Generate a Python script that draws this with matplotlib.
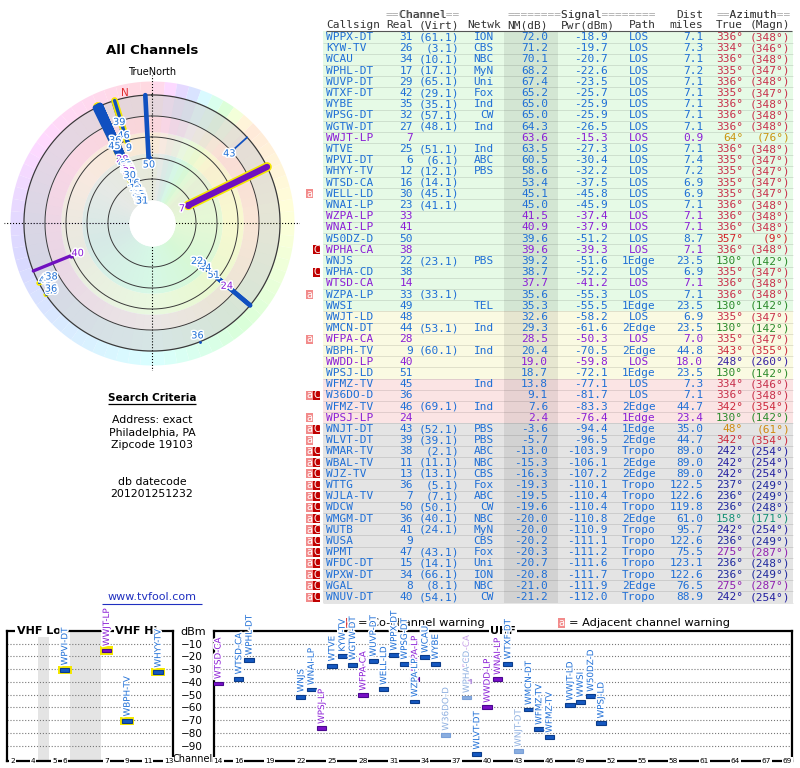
import colorsys
import numpy as np
import matplotlib
matplotlib.use('Agg')
import matplotlib.pyplot as plt
import matplotlib.patheffects as pe
from matplotlib.colors import LinearSegmentedColormap

# ---- station table ----
callsigns = ['WPPX-DT', 'KYW-TV', 'WCAU', 'WPHL-DT', 'WUVP-DT', 'WTXF-DT', 'WYBE', 'WPSG-DT',
             'WGTW-DT', 'WWJT-LP', 'WTVE', 'WPVI-DT', 'WHYY-TV', 'WTSD-CA', 'WELL-LD', 'WNAI-LP',
             'WZPA-LP', 'WNAI-LP', 'W50DZ-D', 'WPHA-CA', 'WNJS', 'WPHA-CD', 'WTSD-CA', 'WZPA-LP',
             'WWSI', 'WWJT-LD', 'WMCN-DT', 'WFPA-CA', 'WBPH-TV', 'WWDD-LP', 'WPSJ-LD', 'WFMZ-TV',
             'W36DO-D', 'WFMZ-TV', 'WPSJ-LP', 'WNJT-DT', 'WLVT-DT', 'WMAR-TV', 'WBAL-TV', 'WJZ-TV',
             'WTTG', 'WJLA-TV', 'WDCW', 'WMGM-DT', 'WUTB', 'WUSA', 'WPMT', 'WFDC-DT', 'WPXW-DT',
             'WGAL', 'WNUV-DT']
real_ch = [31, 26, 34, 17, 29, 42, 35, 32, 27, 7, 25, 6, 12, 16, 30, 23, 33, 41, 50, 38, 22, 38,
           14, 33, 49, 48, 44, 28, 9, 40, 51, 45, 36, 46, 24, 43, 39, 38, 11, 13, 36, 7, 50, 36,
           41, 9, 47, 15, 34, 8, 40]
virt_ch = ['61.1', '3.1', '10.1', '17.1', '65.1', '29.1', '35.1', '57.1', '48.1', '', '51.1',
           '6.1', '12.1', '14.1', '45.1', '41.1', '', '', '', '', '23.1', '', '', '33.1', '', '',
           '53.1', '', '60.1', '', '', '', '', '69.1', '', '52.1', '39.1', '2.1', '11.1', '13.1',
           '5.1', '7.1', '50.1', '40.1', '24.1', '', '43.1', '14.1', '66.1', '8.1', '54.1']
networks = ['ION', 'CBS', 'NBC', 'MyN', 'Uni', 'Fox', 'Ind', 'CW', 'Ind', '', 'Ind', 'ABC', 'PBS',
            '', '', '', '', '', '', '', 'PBS', '', '', '', 'TEL', '', 'Ind', '', 'Ind', '', '',
            'Ind', '', 'Ind', '', 'PBS', 'PBS', 'ABC', 'NBC', 'CBS', 'Fox', 'ABC', 'CW', 'NBC',
            'MyN', 'CBS', 'Fox', 'Uni', 'ION', 'NBC', 'CW']
nm_db = [72.0, 71.2, 70.1, 68.2, 67.4, 65.2, 65.0, 65.0, 64.3, 63.6, 63.5, 60.5, 58.6, 53.4,
         45.1, 45.0, 41.5, 40.9, 39.6, 39.6, 39.2, 38.7, 37.7, 35.6, 35.3, 32.6, 29.3, 28.5,
         20.4, 19.0, 18.7, 13.8, 9.1, 7.6, 2.4, -3.6, -5.7, -13.0, -15.3, -16.3, -19.3, -19.5,
         -19.6, -20.0, -20.0, -20.2, -20.3, -20.7, -20.8, -21.0, -21.2]
pwr_dbm = [-18.9, -19.7, -20.7, -22.6, -23.5, -25.7, -25.9, -25.9, -26.5, -15.3, -27.3, -30.4,
           -32.2, -37.5, -45.8, -45.9, -37.4, -37.9, -51.2, -39.3, -51.6, -52.2, -41.2, -55.3,
           -55.5, -58.2, -61.6, -50.3, -70.5, -59.8, -72.1, -77.1, -81.7, -83.3, -76.4, -94.4,
           -96.5, -103.9, -106.1, -107.2, -110.1, -110.4, -110.4, -110.8, -110.9, -111.1,
           -111.2, -111.6, -111.7, -111.9, -112.0]
paths = ['LOS'] * 20 + ['1Edge', 'LOS', 'LOS', 'LOS', '1Edge', 'LOS', '2Edge', 'LOS', '2Edge',
         'LOS', '1Edge', 'LOS', 'LOS', '2Edge', '1Edge', '1Edge', '2Edge', 'Tropo', '2Edge',
         '2Edge', 'Tropo', 'Tropo', 'Tropo', '2Edge', 'Tropo', 'Tropo', 'Tropo', 'Tropo',
         'Tropo', '2Edge', 'Tropo']
dist_mi = [7.1, 7.3, 7.1, 7.2, 7.1, 7.1, 7.1, 7.1, 7.1, 0.9, 7.1, 7.4, 7.2, 6.9, 6.9, 7.1, 7.1,
           7.1, 8.7, 7.1, 23.5, 6.9, 7.1, 7.1, 23.5, 6.9, 23.5, 7.0, 44.8, 18.0, 23.5, 7.3, 7.1,
           44.7, 23.4, 35.0, 44.7, 89.0, 89.0, 89.0, 122.5, 122.6, 119.8, 61.0, 95.7, 122.6,
           75.5, 123.1, 122.6, 76.5, 88.9]
az_true = [336, 334, 336, 335, 336, 335, 336, 336, 336, 64, 336, 335, 335, 335, 335, 336, 336,
           336, 357, 336, 130, 335, 336, 336, 130, 335, 130, 335, 343, 248, 130, 334, 336, 342,
           130, 48, 342, 242, 242, 242, 237, 236, 236, 158, 242, 236, 275, 236, 236, 275, 242]
az_magn = [348, 346, 348, 347, 348, 347, 348, 348, 348, 76, 348, 347, 347, 347, 347, 348, 348,
           348, 9, 348, 142, 347, 348, 348, 142, 347, 142, 347, 355, 260, 142, 346, 348, 354,
           142, 61, 354, 254, 254, 254, 249, 249, 248, 171, 254, 249, 287, 248, 249, 287, 254]
analog = ['WWJT-LP', 'WZPA-LP#17', 'WNAI-LP#18', 'WPHA-CA', 'WTSD-CA#23', 'WFPA-CA',
          'WWDD-LP', 'WPSJ-LP']
warnings = ['', '', '', '', '', '', '', '', '', '', '', '', '', '', 'a', '', '', '', '', 'C',
            '', 'C', '', 'a', '', '', '', 'a', '', '', '', '', 'aC', '', 'a', 'aC', 'a'] + ['aC'] * 14

vhf_ticks = [2, 4, 5, 6, 7, 9, 11, 13]
uhf_ticks = [14, 16, 19, 22, 25, 28, 31, 34, 37, 40, 43, 46, 49, 52, 55, 58, 61, 64, 67, 69]
dbm_ticks = [-10, -20, -30, -40, -50, -60, -70, -80, -90]
ring_levels = [60, 40, 20, 0, -20]

BLUE = '#1f6fd6'
PURPLE = '#8b1fd6'
YELLOW = '#f5e800'
n = len(callsigns)
is_analog = [(c in analog) or (f'{c}#{i + 1}' in analog) for i, c in enumerate(callsigns)]

az_cmap = LinearSegmentedColormap.from_list('az', [
    (0, '#d42020'), (48 / 360, '#d08a10'), (70 / 360, '#c89a10'), (130 / 360, '#2a8a2a'),
    (160 / 360, '#10907a'), (242 / 360, '#2020a0'), (275 / 360, '#9020b0'),
    (336 / 360, '#c8304a'), (1, '#d42020')])


def ring_color(az, sat=0.15):
    h = np.interp(az, [0, 45, 90, 135, 180, 225, 270, 315, 360],
                  [350, 25, 65, 115, 180, 215, 255, 310, 350]) % 360
    return colorsys.hsv_to_rgb(h / 360, sat, 1.0)


def row_bg(v):
    if v >= 35:
        return '#e6fae6'
    if v >= 15:
        return '#fafae2'
    if v >= 0:
        return '#fbe4e4'
    return '#e4e4e4'


halo = [pe.withStroke(linewidth=2.2, foreground='white')]

fig = plt.figure(figsize=(8, 7.68), dpi=100)
ax = fig.add_axes([0, 0, 1, 1])
ax.set_xlim(0, 800)
ax.set_ylim(768, 0)
ax.axis('off')

# ---- table ----
mono = 'DejaVu Sans Mono'
fs = 8
ROW0, ROWH = 37, 11.2
row_y = ROW0 + ROWH * np.arange(n)
ax.barh(row_y, 470, left=323, height=ROWH, color=[row_bg(v) for v in nm_db], zorder=1)
ax.hlines(row_y + ROWH / 2, 323, 793, color='black', alpha=0.12, lw=0.6, zorder=2)
ax.barh(row_y.mean(), 54, left=504, height=ROWH * n, color='black', alpha=0.08, zorder=2)

hdr = dict(family=mono, fontsize=fs, va='center', zorder=3)
for txt, x in [('==Channel==', 423), ('========Signal========', 581.5), ('==Azimuth==', 753.5)]:
    ax.text(x, 15, txt, ha='center', color='#aaaaaa', **hdr)
    ax.text(x, 15, txt.replace('=', ' '), ha='center', color='#333333', **hdr)
ax.text(703, 15, 'Dist', ha='right', color='#333333', **hdr)
for txt, x, ha in [('Callsign', 326, 'left'), ('Real', 413, 'right'), ('(Virt)', 459, 'right'),
                   ('Netwk', 501, 'right'), ('NM(dB)', 548, 'right'), ('Pwr(dBm)', 615, 'right'),
                   ('Path', 642, 'center'), ('miles', 703, 'right'), ('True', 743, 'right'),
                   ('(Magn)', 790, 'right')]:
    ax.text(x, 25, txt, ha=ha, color='#333333', **hdr)
ax.hlines(30.5, 326, 792, color='#555555', lw=0.8)

cell = dict(family=mono, fontsize=fs, va='center', zorder=3)
for i in range(n):
    y = row_y[i]
    col = PURPLE if is_analog[i] else BLUE
    azc = az_cmap(az_true[i] / 360)
    ax.text(326, y, callsigns[i], ha='left', color=col, **cell)
    ax.text(413, y, str(real_ch[i]), ha='right', color=col, **cell)
    if virt_ch[i]:
        ax.text(459, y, f'({virt_ch[i]})', ha='right', color=col, **cell)
    ax.text(494, y, networks[i], ha='right', color=col, **cell)
    ax.text(548, y, f'{nm_db[i]:.1f}', ha='right', color=col, **cell)
    ax.text(608, y, f'{pwr_dbm[i]:.1f}', ha='right', color=col, **cell)
    ax.text(639, y, paths[i], ha='center', color=col, **cell)
    ax.text(703, y, f'{dist_mi[i]:.1f}', ha='right', color=col, **cell)
    ax.text(743, y, f'{az_true[i]}°', ha='right', color=azc, **cell)
    ax.text(790, y, f'({az_magn[i]}°)', ha='right', color=azc, **cell)

adj_y = [row_y[i] for i, w in enumerate(warnings) if 'a' in w]
co_y = [row_y[i] for i, w in enumerate(warnings) if 'C' in w]
ax.barh(adj_y, 6.8, left=305.8, height=9, color='#f28b8b', zorder=3)
ax.barh(co_y, 7.2, left=312.8, height=9, color='#c00000', zorder=3)
for y in adj_y:
    ax.text(309.2, y, 'a', ha='center', va='center', color='white', fontsize=7, zorder=4)
for y in co_y:
    ax.text(316.4, y, 'C', ha='center', va='center', color='white', fontsize=7, zorder=4)

# ---- left column text ----
ax.text(152, 50, 'All Channels', ha='center', va='center', fontsize=9.5, fontweight='bold')
ax.text(152, 72, 'TrueNorth', ha='center', va='center', fontsize=7)
ax.text(152, 398, 'Search Criteria', ha='center', va='center', fontsize=7.5, fontweight='bold')
ax.hlines(404, 108, 196, color='black', lw=0.9)
for txt, y in [('Address: exact', 420), ('Philadelphia, PA', 433), ('Zipcode 19103', 445),
               ('db datecode', 482), ('201201251232', 494)]:
    ax.text(152, y, txt, ha='center', va='center', fontsize=7.8)
ax.text(152, 597, 'www.tvfool.com', ha='center', va='center', fontsize=8, color='#2030c0')
ax.hlines(603.5, 102, 202, color='#2030c0', lw=0.8)

# ---- polar signal map ----
NM_CENTER, NM_EDGE = 101.9, -39.0
pax = fig.add_axes([4 / 800, (768 - 223 - 148) / 768, 296 / 800, 296 / 768], projection='polar')
pax.set_theta_zero_location('N')
pax.set_theta_direction(-1)
pax.set_ylim(NM_CENTER, NM_EDGE)
pax.axis('off')

full = np.linspace(0, 2 * np.pi, 361)
for top, bot, c in [(80, 35, '#e3f8e3'), (35, 15, '#f8f8dc'), (15, 0, '#f9e2e2'),
                    (0, -20, '#e2e2e2')]:
    pax.fill_between(full, top, bot, color=c, lw=0, zorder=1)
for k in range(72):
    seg = np.radians(np.linspace(k * 5, k * 5 + 5, 6))
    pax.fill_between(seg, -20, -33.3, color=ring_color(k * 5 + 2.5), lw=0, zorder=1)
    pax.fill_between(seg, 80, -20, color=ring_color(k * 5 + 2.5, 0.5), alpha=0.12, lw=0, zorder=1)
for th in np.radians([0, 90, 180, 270]):
    pax.plot([th, th], [NM_CENTER, NM_EDGE], ls=':', color='black', lw=0.8, zorder=2)
pax.fill_between(full, NM_CENTER, 80, color='white', lw=0, zorder=3)
for lv in ring_levels:
    pax.plot(full, [lv] * len(full), color='#3a3a3a', lw=0.7 if lv > -20 else 0.9, zorder=3)
pax.text(np.radians(348), -24.5, 'N', color='#e03030', fontsize=7.5, ha='center', va='center',
         zorder=6)

order = np.argsort(nm_db)
for i in order:
    v = nm_db[i]
    if v < -20.05:
        continue
    th = np.radians(az_true[i])
    col = '#7010c0' if is_analog[i] else '#1050c0'
    lw = float(np.clip(2 + v / 15, 1.6, 6.5)) * 0.72
    if real_ch[i] < 14:
        pax.plot([th, th], [v, -20], color=YELLOW, lw=lw + 2.4, solid_capstyle='round', zorder=4)
    pax.plot([th, th], [v, -20], color=col, lw=lw, solid_capstyle='round', zorder=4)
    pax.plot([th], [v], 'o', color=col, ms=lw * 0.9, zorder=4)
for i in order:
    v = nm_db[i]
    if v < -20.05:
        continue
    pax.text(np.radians(az_true[i]), max(v, -20) + 6.5, str(real_ch[i]), ha='center',
             va='center', fontsize=7, color=PURPLE if is_analog[i] else BLUE,
             path_effects=halo, zorder=5)

# ---- received power spectrum ----
YMIN = -102


def vhf_pos(ch):
    if ch <= 4:
        return ch - 1.45
    if ch <= 6:
        return ch - 0.4
    return ch + 2.65


vax = fig.add_axes([7 / 800, 7 / 768, 166 / 800, 130 / 768])
uax = fig.add_axes([214 / 800, 7 / 768, 578 / 800, 130 / 768])
vax.set_xlim(0, 16.1)
uax.set_xlim(13.61, 69.46)
vax.axvspan(3.05, 4.1, color='#e4e4e4', lw=0, zorder=0)
vax.axvspan(6.1, 9.15, color='#e4e4e4', lw=0, zorder=0)
for a in (vax, uax):
    a.set_ylim(YMIN, 0)
    a.set_yticks(dbm_ticks)
    a.set_xticks([])
    a.yaxis.grid(True, ls=':', color='#777777', lw=0.8)
    a.set_axisbelow(True)
    a.tick_params(axis='y', length=0)
    for s in a.spines.values():
        s.set_linewidth(1.6)
vax.set_yticklabels([])
uax.tick_params(axis='y', pad=8, labelsize=7.5)

tick_box = dict(fc='white', ec='none', pad=0.6)
for t in vhf_ticks:
    vax.text(vhf_pos(t), YMIN, str(t), ha='center', va='center', fontsize=5.3, bbox=tick_box,
             clip_on=False, zorder=6)
for t in uhf_ticks:
    uax.text(t, YMIN, str(t), ha='center', va='center', fontsize=5.3, bbox=tick_box,
             clip_on=False, zorder=6)
band_box = dict(fc='white', ec='none', pad=1.0)
vax.text(0.19, 1.0, 'VHF Lo', transform=vax.transAxes, ha='center', va='center', fontsize=8,
         fontweight='bold', bbox=band_box, zorder=3)
vax.text(0.78, 1.0, 'VHF Hi', transform=vax.transAxes, ha='center', va='center', fontsize=8,
         fontweight='bold', bbox=band_box, zorder=3)
uax.text(0.5, 1.0, 'UHF', transform=uax.transAxes, ha='center', va='center', fontsize=8,
         fontweight='bold', bbox=band_box, zorder=3)
ax.text(193, 632, 'dBm', ha='center', va='center', fontsize=8)
ax.text(193, 759, 'Channel', ha='center', va='center', fontsize=7)

for i in range(n):
    p = pwr_dbm[i]
    if p <= YMIN + 4:
        continue
    faded = 'C' in warnings[i]
    if is_analog[i]:
        fill, edge, tcol = ('#c9a6ea', '#b090d8', '#c8a0e8') if faded else ('#7a10c8', '#4a0890', PURPLE)
    else:
        fill, edge, tcol = ('#8aaee0', '#7aa0d8', '#8fb0e0') if faded else ('#1558c0', '#0b3c8a', BLUE)
    ch = real_ch[i]
    if ch < 14:
        a, x = vax, vhf_pos(ch)
        # VHF stations get a yellow halo around the marker
        a.bar(x, 6.5, bottom=p - 3.25, width=1.35, color=YELLOW, lw=0, zorder=3)
    else:
        a, x = uax, ch
    a.bar(x, 3, bottom=p - 1.5, width=0.9, color=fill, edgecolor=edge, lw=0.8, zorder=4)
    a.text(x, p + 3.5, callsigns[i], rotation=90, ha='center', va='bottom', fontsize=6.3,
           color=tcol, path_effects=halo, clip_on=False, zorder=5)

# warning legend
ax.barh([623, 623], [7, 7], left=[346, 557.5], height=10, color=['#d84040', '#f28b8b'])
ax.text(349.5, 623, 'C', ha='center', va='center', fontsize=7, color='white')
ax.text(561, 623, 'a', ha='center', va='center', fontsize=7, color='white')
ax.text(358, 623, '= Co-channel warning', ha='left', va='center', fontsize=8.2)
ax.text(569, 623, '= Adjacent channel warning', ha='left', va='center', fontsize=8.2)

fig.savefig('out.png', dpi=100, facecolor='white')
